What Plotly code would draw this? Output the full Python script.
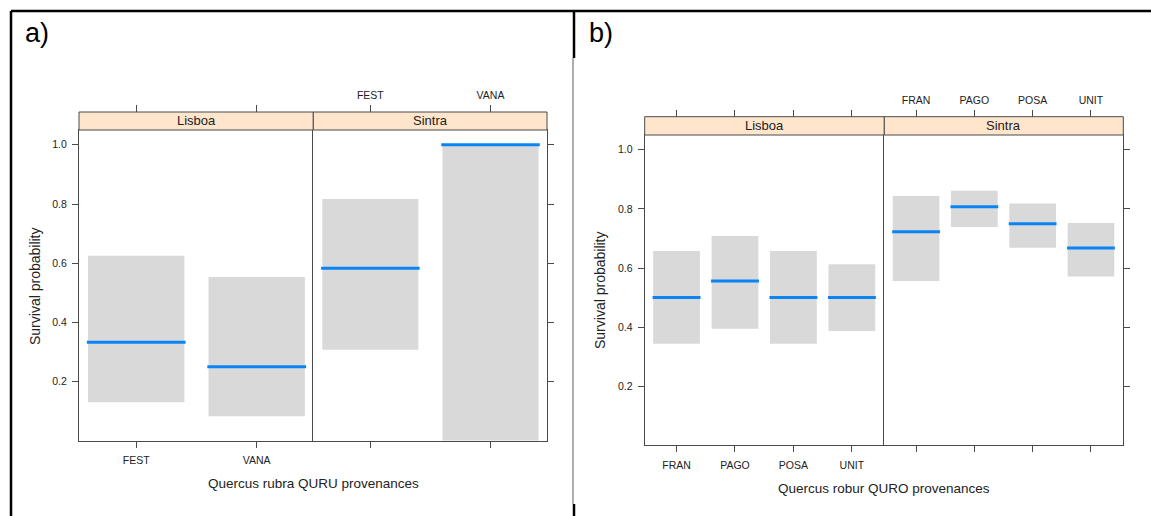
import plotly.graph_objects as go

# Survival probability by provenance and site (fitted value with confidence band)
sites = ["Lisboa", "Sintra"]

quru_provenances = ["FEST", "VANA"]
quru_fit = {"Lisboa": [0.333, 0.250], "Sintra": [0.583, 1.000]}
quru_lower = {"Lisboa": [0.130, 0.083], "Sintra": [0.308, 0.000]}
quru_upper = {"Lisboa": [0.625, 0.553], "Sintra": [0.817, 1.000]}

quro_provenances = ["FRAN", "PAGO", "POSA", "UNIT"]
quro_fit = {"Lisboa": [0.500, 0.556, 0.500, 0.500], "Sintra": [0.723, 0.807, 0.750, 0.668]}
quro_lower = {"Lisboa": [0.344, 0.395, 0.344, 0.387], "Sintra": [0.556, 0.739, 0.669, 0.571]}
quro_upper = {"Lisboa": [0.658, 0.708, 0.658, 0.613], "Sintra": [0.844, 0.861, 0.818, 0.752]}

y_ticks = [0.2, 0.4, 0.6, 0.8, 1.0]

W, H = 1151, 516
FONT = "Liberation Sans, Arial, sans-serif"
AXIS_COL = "#4a4a4a"
BAND_COL = "#d9d9d9"
FIT_COL = "#0a84f5"
STRIP_COL = "#ffe5cc"


def fx(px):
    return px / W


def fy(py):
    return 1 - py / H


# panel layout in pixels: (left, right) per site, (top, bottom) of plotting area, strip top
panels = [
    dict(name="a", provs=quru_provenances, fit=quru_fit, lo=quru_lower, hi=quru_upper,
         cols=[(79, 313.3), (313.3, 547)], top=130, bottom=440.8, strip_top=112,
         xrange=[0.525, 2.47], xtitle="Quercus rubra QURU provenances",
         xtitle_pos=(313, 483), ytitle_pos=(35, 286), tag_pos=(37, 33)),
    dict(name="b", provs=quro_provenances, fit=quro_fit, lo=quro_lower, hi=quro_upper,
         cols=[(644.7, 884.3), (884.3, 1123.3)], top=135, bottom=445.4, strip_top=116.7,
         xrange=[0.455, 4.555], xtitle="Quercus robur QURO provenances",
         xtitle_pos=(884, 488), ytitle_pos=(600, 290), tag_pos=(601, 33)),
]

fig = go.Figure()
layout = dict(
    width=W, height=H, margin=dict(l=0, r=0, t=0, b=0),
    paper_bgcolor="white", plot_bgcolor="white", showlegend=False,
    font=dict(family=FONT, color="#222", size=10),
)
shapes = []
annotations = []

ax = 0
for p in panels:
    positions = list(range(1, len(p["provs"]) + 1))
    for j, site in enumerate(sites):
        ax += 1
        top_ax = ax + 4
        xname = "x" if ax == 1 else f"x{ax}"
        yname = "y" if ax == 1 else f"y{ax}"
        xtop = f"x{top_ax}"
        left, right = p["cols"][j]
        dom_x = [fx(left), fx(right)]
        dom_y = [fy(p["bottom"]), fy(p["top"])]

        lo = p["lo"][site]
        hi = p["hi"][site]
        fit = p["fit"][site]

        # confidence band as a bar from lower to upper bound
        fig.add_trace(go.Bar(
            x=positions, y=[h - l for l, h in zip(lo, hi)], base=lo, width=0.8,
            marker=dict(color=BAND_COL, line=dict(width=0)),
            xaxis=xname, yaxis=yname, hoverinfo="skip",
        ))
        # fitted value as a horizontal segment across each band
        seg_x, seg_y = [], []
        for pos, f in zip(positions, fit):
            seg_x += [pos - 0.41, pos + 0.41, None]
            seg_y += [f, f, None]
        fig.add_trace(go.Scatter(
            x=seg_x, y=seg_y, mode="lines", line=dict(color=FIT_COL, width=3),
            xaxis=xtop, yaxis=yname, hoverinfo="skip",
        ))

        bottom_labels = j == 0
        layout["xaxis" if ax == 1 else f"xaxis{ax}"] = dict(
            domain=dom_x, anchor=yname, range=p["xrange"],
            tickvals=positions, ticktext=p["provs"], showticklabels=bottom_labels,
            ticks="outside", ticklen=6, tickcolor=AXIS_COL, tickwidth=1,
            showline=True, linecolor=AXIS_COL, linewidth=1, mirror=True,
            showgrid=False, zeroline=False, ticklabelstandoff=4,
            tickfont=dict(size=10.5, family=FONT, color="#222"),
        )
        layout[f"xaxis{top_ax}"] = dict(
            domain=dom_x, anchor="free", position=fy(p["strip_top"]),
            overlaying=xname, side="top", range=p["xrange"],
            tickvals=positions, ticktext=p["provs"], showticklabels=not bottom_labels,
            ticks="outside", ticklen=7, tickcolor=AXIS_COL, tickwidth=1,
            showline=False, showgrid=False, zeroline=False, ticklabelstandoff=2,
            tickfont=dict(size=10.5, family=FONT, color="#222"),
        )
        # left panel draws only its left edge; right panel draws both of its edges
        layout["yaxis" if ax == 1 else f"yaxis{ax}"] = dict(
            domain=dom_y, anchor=xname, range=[0, 1.05],
            side="left" if j == 0 else "right",
            tickvals=y_ticks, ticktext=[f"{v:.1f}" for v in y_ticks],
            showticklabels=j == 0,
            ticks="outside", ticklen=6, tickcolor=AXIS_COL, tickwidth=1,
            showline=True, linecolor=AXIS_COL, linewidth=1, mirror=(j == 1),
            showgrid=False, zeroline=False, ticklabelstandoff=3,
            tickfont=dict(size=10.5, family=FONT, color="#222"),
        )

        # strip with site name
        shapes.append(dict(
            type="rect", xref="paper", yref="paper",
            x0=fx(left), x1=fx(right), y0=fy(p["top"]), y1=fy(p["strip_top"]),
            fillcolor=STRIP_COL, line=dict(color=AXIS_COL, width=1), layer="above",
        ))
        annotations.append(dict(
            text=site, xref="paper", yref="paper",
            x=fx((left + right) / 2), y=fy((p["top"] + p["strip_top"]) / 2),
            xanchor="center", yanchor="middle", showarrow=False,
            font=dict(size=13, family=FONT, color="#222"),
        ))

    annotations.append(dict(
        text=p["xtitle"], xref="paper", yref="paper",
        x=fx(p["xtitle_pos"][0]), y=fy(p["xtitle_pos"][1]),
        xanchor="center", yanchor="middle", showarrow=False,
        font=dict(size=13.5, family=FONT, color="#222"),
    ))
    annotations.append(dict(
        text="Survival probability", xref="paper", yref="paper", textangle=-90,
        x=fx(p["ytitle_pos"][0]), y=fy(p["ytitle_pos"][1]),
        xanchor="center", yanchor="middle", showarrow=False,
        font=dict(size=14, family=FONT, color="#222"),
    ))
    annotations.append(dict(
        text=p["name"] + ")", xref="paper", yref="paper",
        x=fx(p["tag_pos"][0]), y=fy(p["tag_pos"][1]),
        xanchor="center", yanchor="middle", showarrow=False,
        font=dict(size=27, family=FONT, color="black"),
    ))

# surrounding table frame
frame = [
    (11, 11, 1151, 11, "black", 2.5),
    (11, 11, 11, 516, "black", 2.5),
    (574, 11, 574, 58, "black", 2.5),
    (573, 58, 573, 504, "#777777", 1.2),
    (574, 504, 574, 516, "black", 2.5),
]
for x0, y0, x1, y1, col, w in frame:
    shapes.append(dict(type="line", xref="paper", yref="paper",
                       x0=fx(x0), y0=fy(y0), x1=fx(x1), y1=fy(y1),
                       line=dict(color=col, width=w)))

layout["shapes"] = shapes
layout["annotations"] = annotations
fig.update_layout(**layout)
fig.write_html("out.html")
